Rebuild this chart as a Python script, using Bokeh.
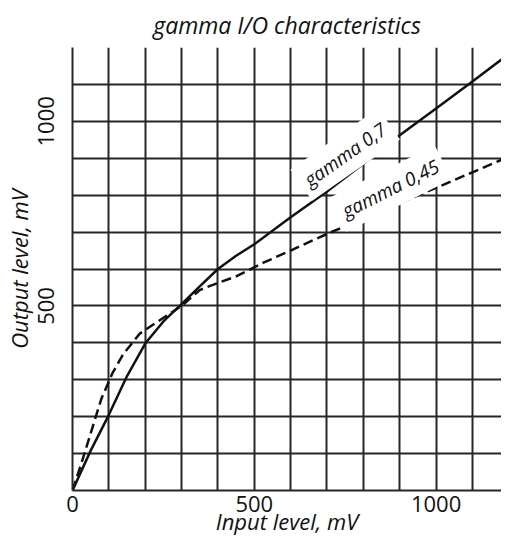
from bokeh.plotting import figure
from bokeh.models import Label, FixedTicker, Range1d
from bokeh.embed import file_html
from bokeh.resources import INLINE

# data (mV)
solid_x = [0, 50, 100, 150, 200, 250, 300, 350, 400, 450, 500, 600, 700, 800, 900, 1000, 1100, 1190]
solid_y = [0, 108, 205, 310, 398, 458, 505, 553, 600, 636, 667, 740, 810, 885, 962, 1035, 1108, 1175]
dash_x = [0, 25, 60, 80, 110, 140, 185, 235, 300, 350, 375, 450, 525, 600, 700, 800, 900, 1000, 1100, 1190]
dash_y = [0, 75, 187, 250, 318, 370, 425, 458, 500, 543, 553, 580, 617, 650, 695, 737, 779, 820, 862, 900]
x_ticks = [0, 500, 1000]
y_ticks = [500, 1000]
grid_x = [0, 100, 200, 300, 400, 500, 600, 700, 800, 900, 1000, 1100]
grid_y = [0, 100, 200, 300, 400, 500, 600, 700, 800, 900, 1000, 1100, 1200]
label_texts = ["gamma 0,7", "gamma 0,45"]
label_x = [750, 875]
label_y = [910, 818]
label_angles = [35, 26.5]
x_title = "Input level, mV"
y_title = "Output level, mV"

FONT = "Open Sans"
GRID = "#262626"
INK = "#111111"

p = figure(width=501, height=540, x_range=Range1d(0, 1180), y_range=Range1d(0, 1200),
           output_backend="svg", toolbar_location=None,
           min_border_left=65, min_border_right=0, min_border_top=40, min_border_bottom=50)
p.outline_line_color = None
p.background_fill_color = "white"
p.border_fill_color = "white"

p.title.text = "gamma I/O characteristics"
p.title.text_font = FONT
p.title.text_font_style = "italic"
p.title.text_font_size = "23px"
p.title.align = "center"
p.title.text_color = INK
p.title.standoff = 13

p.xaxis.ticker = FixedTicker(ticks=x_ticks)
p.yaxis.ticker = FixedTicker(ticks=y_ticks)
p.xgrid.ticker = FixedTicker(ticks=grid_x)
p.ygrid.ticker = FixedTicker(ticks=grid_y)
for g in (p.xgrid, p.ygrid):
    g.grid_line_color = GRID
    g.grid_line_width = 2
    g.grid_line_alpha = 1.0

for ax in (p.xaxis, p.yaxis):
    ax.axis_line_color = GRID
    ax.axis_line_width = 2
    ax.major_tick_line_color = None
    ax.minor_tick_line_color = None
    ax.major_tick_out = 0
    ax.major_tick_in = 0
    ax.minor_tick_out = 0
    ax.minor_tick_in = 0
    ax.major_label_text_font = FONT
    ax.major_label_text_font_size = "22px"
    ax.major_label_text_color = INK
    ax.axis_label_text_font = FONT
    ax.axis_label_text_font_style = "italic"
    ax.axis_label_text_font_size = "22px"
    ax.axis_label_text_color = INK

p.xaxis.axis_label = x_title
p.yaxis.axis_label = y_title
p.yaxis.major_label_orientation = "vertical"
p.xaxis.major_label_standoff = 5
p.yaxis.major_label_standoff = 18
p.xaxis.axis_label_standoff = -9
p.yaxis.axis_label_standoff = 2

p.line(solid_x, solid_y, line_color=INK, line_width=2.5)
p.line(dash_x, dash_y, line_color=INK, line_width=2.5, line_dash="10 5")

for t, lx, ly, a in zip(label_texts, label_x, label_y, label_angles):
    p.add_layout(Label(x=lx, y=ly, text=t, angle=a, angle_units="deg",
                       text_align="center", text_baseline="middle",
                       text_font=FONT, text_font_style="italic", text_font_size="19px",
                       text_color=INK, background_fill_color="white",
                       background_fill_alpha=1.0, padding=6))

open("out.html", "w").write(file_html(p, INLINE))
